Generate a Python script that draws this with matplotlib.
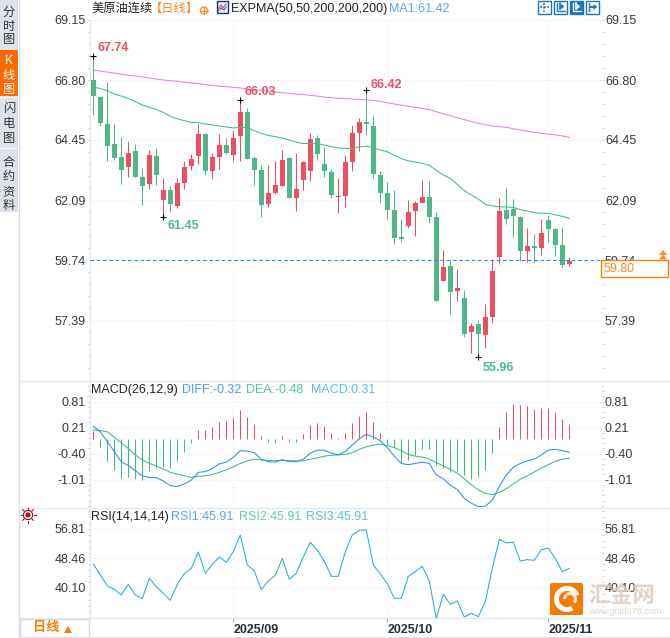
import numpy as np
import matplotlib
matplotlib.use('Agg')
import matplotlib.pyplot as plt
from matplotlib.patches import Rectangle, FancyBboxPatch, Circle, Wedge, Polygon
from matplotlib.ticker import AutoMinorLocator

plt.rcParams['font.family'] = ['Liberation Sans', 'Noto Sans CJK SC', 'DejaVu Sans']

# Candles
open_px = [66.80,66.13,65.08,64.29,63.78,63.39,64.02,63.00,62.73,63.82,62.10,62.49,61.86,62.77,63.43,63.82,64.68,63.24,63.78,64.25,
           63.86,64.61,65.55,63.75,63.28,61.94,62.37,62.65,63.75,62.18,62.88,63.24,64.53,63.51,63.20,62.22,62.26,63.59,64.72,65.15,
           65.00,63.08,62.37,61.71,60.65,61.08,61.67,61.98,62.22,61.43,58.93,59.52,58.53,58.26,56.93,57.24,56.81,57.52,59.87,61.71,
           61.75,61.43,60.10,60.30,60.22,61.32,60.96,60.34,59.59]
close_px = [66.17,65.12,64.21,63.75,63.28,63.94,63.00,62.65,63.86,63.08,62.49,61.94,62.77,63.39,63.71,64.68,63.24,63.78,64.25,63.94,
            64.53,65.55,63.71,63.28,61.90,62.37,62.69,63.67,62.18,62.53,63.59,64.49,63.90,63.24,62.30,62.26,63.59,64.72,65.15,65.08,
            63.12,62.37,61.71,60.61,60.57,61.63,61.98,62.22,61.43,58.14,59.48,58.50,58.65,56.85,57.17,56.85,57.52,59.32,61.67,61.36,
            61.47,60.10,60.30,60.22,60.81,60.96,60.34,59.55,59.71]
high_px = [67.74,66.15,66.72,65.08,64.57,64.41,64.29,63.35,64.06,64.14,62.96,62.65,62.96,63.63,63.90,65.08,64.72,63.94,64.68,64.53,
           64.84,66.03,65.70,63.82,63.47,63.47,63.63,64.06,63.78,63.94,63.63,64.72,64.65,64.18,63.31,62.96,63.86,65.04,65.31,66.42,
           65.39,63.24,62.80,62.49,61.36,62.10,62.06,62.88,62.84,61.63,60.14,59.75,59.40,58.57,57.28,57.40,58.03,59.79,62.18,62.57,
           62.14,61.47,61.00,60.77,61.36,61.51,61.00,61.04,59.87]
low_px = [65.43,65.00,63.63,63.67,62.73,63.00,63.00,61.90,62.53,62.69,61.45,61.63,61.79,62.53,63.28,63.51,63.08,62.92,63.31,63.90,
          63.63,63.63,63.71,62.69,61.43,61.83,62.33,62.65,62.18,61.67,62.49,62.84,63.67,63.00,62.18,61.58,61.83,63.24,64.02,64.65,
          62.96,61.98,61.37,60.38,60.45,61.00,60.69,61.98,61.20,58.14,58.93,57.63,58.14,56.73,56.11,55.96,56.30,57.28,59.59,61.16,
          60.65,59.71,59.67,59.67,59.95,60.45,59.90,59.47,59.52]

expma_slow = [67.19,67.15,67.11,67.07,67.03,66.99,66.96,66.92,66.88,66.84,66.80,66.77,66.75,66.71,66.68,66.66,66.62,66.59,66.56,66.54,
              66.51,66.49,66.45,66.42,66.40,66.36,66.33,66.30,66.28,66.25,66.23,66.20,66.17,66.13,66.11,66.08,66.07,66.06,66.04,66.02,
              66.00,65.96,65.91,65.86,65.81,65.77,65.73,65.69,65.64,65.56,65.48,65.40,65.32,65.25,65.17,65.10,65.05,65.00,64.97,64.95,
              64.89,64.84,64.79,64.75,64.71,64.68,64.65,64.61,64.55]
expma_fast = [66.51,66.47,66.38,66.25,66.17,66.08,65.95,65.82,65.73,65.65,65.53,65.38,65.28,65.21,65.14,65.13,65.08,65.04,65.00,64.96,
              64.92,64.95,64.93,64.82,64.71,64.63,64.58,64.52,64.45,64.37,64.31,64.32,64.32,64.25,64.19,64.14,64.12,64.11,64.18,64.21,
              64.15,64.06,63.99,63.85,63.72,63.63,63.59,63.54,63.46,63.26,63.08,62.95,62.71,62.47,62.30,62.14,61.93,61.87,61.83,61.83,
              61.81,61.72,61.67,61.60,61.58,61.58,61.52,61.46,61.38]

macd_hist = [.18,-.19,-.52,-.74,-.91,-.89,-.94,-.97,-.75,-.69,-.67,-.69,-.52,-.31,-.10,.20,.20,.27,.39,.41,
             .48,.67,.51,.34,.06,-.08,-.10,.06,-.08,-.08,.11,.32,.37,.30,.13,.02,.13,.37,.53,.62,
             .39,.13,-.15,-.22,-.55,-.50,-.38,-.24,-.24,-.64,-.69,-.78,-.76,-.85,-.94,-.90,-.73,-.34,.27,.62,
             .81,.79,.77,.70,.72,.72,.62,.46,.34]
macd_diff = [.24,.11,-.12,-.35,-.59,-.68,-.80,-.92,-.96,-.96,-1.04,-1.15,-1.17,-1.11,-1.02,-.84,-.82,-.75,-.64,-.60,
             -.49,-.33,-.34,-.38,-.53,-.59,-.60,-.54,-.59,-.59,-.53,-.39,-.32,-.32,-.39,-.43,-.35,-.20,-.05,.05,
             -.01,-.10,-.26,-.46,-.63,-.66,-.63,-.60,-.63,-.90,-.99,-1.14,-1.24,-1.45,-1.56,-1.64,-1.63,-1.49,-1.17,-.90,
             -.72,-.63,-.57,-.53,-.43,-.32,-.30,-.33,-.37]
macd_dea = [.15,.14,.11,-.02,-.15,-.28,-.43,-.55,-.63,-.69,-.76,-.84,-.88,-.92,-.96,-.93,-.92,-.89,-.84,-.78,
            -.71,-.63,-.57,-.53,-.55,-.56,-.56,-.56,-.56,-.57,-.57,-.53,-.50,-.46,-.44,-.43,-.42,-.38,-.30,-.24,
            -.20,-.18,-.21,-.26,-.33,-.42,-.46,-.48,-.53,-.61,-.69,-.77,-.86,-.99,-1.13,-1.25,-1.33,-1.36,-1.31,-1.22,
            -1.11,-1.00,-.92,-.83,-.74,-.66,-.58,-.53,-.51]

rsi = [46.90,43.79,40.67,39.73,38.12,41.14,38.12,37.08,42.84,40.48,38.59,36.61,41.14,44.16,45.67,50.30,44.26,46.81,48.88,47.37,
       50.39,55.11,46.62,44.92,39.63,42.09,43.69,48.51,42.56,44.26,48.88,53.04,50.77,47.75,43.41,43.41,50.39,55.11,56.44,56.53,
       46.62,44.07,41.33,37.18,37.18,43.41,44.73,46.24,42.09,31.51,38.31,35.48,36.42,31.89,32.93,31.99,36.23,45.67,53.89,52.85,
       53.04,47.75,48.13,47.94,50.96,51.34,48.51,44.73,45.67]

price_ticks = [69.15, 66.80, 64.45, 62.09, 59.74, 57.39]
macd_ticks = [0.81, 0.21, -0.40, -1.01]
rsi_ticks = [56.81, 48.46, 40.10]
date_pos = [20, 42, 65]
date_labels = ['2025/09', '2025/10', '2025/11']
last_price = 59.74

RED = '#ee4f60'
GREEN = '#52b788'
GRID = '#e4e8ea'
EDGE = '#e2e9ef'
W, H = 670, 638
LW = 0.75  # about one pixel

fig = plt.figure(figsize=(W / 100, H / 100), dpi=100)


def panel(top, bottom, ylim, ticks, labels):
    left, right = 89.5, 601.5
    ax = fig.add_axes([left / W, 1 - bottom / H, (right - left) / W, (bottom - top) / H])
    ax.set_xlim((left - 93.3) / 7, (right - 93.3) / 7)
    ax.set_ylim(*ylim)
    ax.set_yticks(ticks)
    ax.set_yticklabels(labels)
    ax.yaxis.set_minor_locator(AutoMinorLocator(5))
    ax.tick_params(axis='y', which='major', length=0, labelleft=True, labelright=True, labelsize=9,
                   labelcolor='#333a44', pad=2.5)
    ax.tick_params(axis='y', which='minor', length=1.2, width=0.7, color='#c4c8cc', left=True, right=True)
    ax.set_xticks(date_pos)
    ax.tick_params(axis='x', length=0, labelbottom=False)
    ax.grid(True, which='major', color=GRID, linestyle=(0, (1, 2.5)), linewidth=0.8)
    ax.set_axisbelow(True)
    for s in ['top', 'right', 'bottom']:
        ax.spines[s].set_visible(False)
    ax.spines['left'].set_color(EDGE)
    return ax


idx = np.arange(len(close_px))
o = np.array(open_px)
c = np.array(close_px)
hi = np.array(high_px)
lo = np.array(low_px)
up = c >= o

# Main price panel
ax1 = panel(20, 380, (55.05, 69.15), price_ticks, ['%.2f' % t for t in price_ticks])
ax1.vlines(idx[up], lo[up], hi[up], color=RED, linewidth=LW)
ax1.vlines(idx[~up], lo[~up], hi[~up], color=GREEN, linewidth=LW)
ax1.bar(idx[up], c[up] - o[up], bottom=o[up], width=0.76, color=RED, linewidth=0)
ax1.bar(idx[~up], o[~up] - c[~up], bottom=c[~up], width=0.76, color=GREEN, linewidth=0)
ax1.plot(idx, expma_slow, color='#e582da', linewidth=LW)
ax1.plot(idx, expma_fast, color='#3fbb85', linewidth=LW)
ax1.axhline(last_price, color='#1e88ff', linewidth=LW, linestyle=(0, (3.5, 2.5)), zorder=5)

# high / low markers
marks = [(0, 67.74, RED, 0.65, 0.30), (21, 66.03, RED, 0.65, 0.31), (39, 66.42, RED, 0.65, 0.18),
         (10, 61.45, GREEN, 0.65, -0.38), (55, 55.96, GREEN, 0.65, -0.43)]
for i, val, col, dx, dy in marks:
    ax1.plot([i], [val], marker='+', color='black', markersize=5, markeredgewidth=0.8, linestyle='none', zorder=6)
    ax1.text(i + dx, val + dy, '%.2f' % val, color=col, fontsize=9, fontweight='bold', va='center', ha='left')

# MACD panel
ax2 = panel(381, 507, (-1.65, 1.30), macd_ticks, ['0.81', '0.21', '-0.40', '-1.01'])
hist = np.array(macd_hist)
base = -0.05
ax2.vlines(idx[hist > 0], base, base + hist[hist > 0], color=RED, linewidth=LW)
ax2.vlines(idx[hist < 0], base, base + hist[hist < 0], color='#3fbb80', linewidth=LW)
ax2.plot(idx, macd_dea, color='#3fbb80', linewidth=LW)
ax2.plot(idx, macd_diff, color='#2f8cf0', linewidth=LW)

# RSI panel
ax3 = panel(507.5, 618, (31.6, 62.9), rsi_ticks, ['56.81', '48.46', '40.10'])
ax3.plot(idx, rsi, color='#2fa8dc', linewidth=LW)
ax3.set_xticklabels(date_labels)
ax3.tick_params(axis='x', length=3, width=0.8, color='#9aa4ad', labelbottom=True, labelsize=9, labelcolor='#2a2f36', pad=1.5)
for lab in ax3.get_xticklabels():
    lab.set_ha('left')
    lab.set_fontweight('bold')

# Everything around the panels, in pixels
ov = fig.add_axes([0, 0, 1, 1], zorder=10)
ov.set_xlim(0, W)
ov.set_ylim(H, 0)
ov.axis('off')

# separators
ov.plot([18.5, 18.5], [0, 637], color='#d5dde6', linewidth=1)
for y in [381, 507.5, 618]:
    ov.plot([18.5, W], [y, y], color=EDGE, linewidth=1)
ov.plot([18.5, W], [637, 637], color=EDGE, linewidth=1)

# side tabs
ov.add_patch(Rectangle((0, 0), 18, 212, facecolor='#dfe2ea', edgecolor='none'))
ov.add_patch(Rectangle((0, 50), 18, 46, facecolor='#ff6a00', edgecolor='none'))
for y in [97, 148]:
    ov.plot([0, 18], [y, y], color='#f2f4f7', linewidth=1)
side_tabs = [('分时图', [13, 27, 40], '#333333'), ('K线图', [61, 76, 90], 'white'),
             ('闪电图', [109, 124, 139], '#333333'), ('合约资料', [163, 177, 192, 206], '#333333')]
for chars, ys, col in side_tabs:
    for ch, y in zip(chars, ys):
        ov.text(9, y, ch, color=col, fontsize=8.8, ha='center', va='center')

# bottom-left period box
ov.add_patch(Rectangle((19.5, 618.5), 69, 18.5, facecolor='white', edgecolor='#cfd8e3', linewidth=1))
ov.text(33, 628, '日线', color='#ff7a00', fontsize=9.5, fontweight='bold', va='center')
ov.add_patch(Polygon([[64, 633], [72, 633], [68, 626]], facecolor='#ff7a00', edgecolor='none'))

# header legend
ov.text(91, 9, '美原油连续', color='#222222', fontsize=8.8, va='center')
ov.text(150, 9, '【日线】', color='#ff8a1e', fontsize=8.8, va='center')
ov.add_patch(Circle((204, 10.5), 3.6, facecolor='none', edgecolor='#ff8a1e', linewidth=0.9))
ov.plot([200, 208], [10.5, 10.5], color='#ff8a1e', linewidth=0.8)
ov.plot([204, 204], [7, 14], color='#ff8a1e', linewidth=0.8)
ov.add_patch(Rectangle((216.5, 1), 11, 11.5, facecolor='#eef3fb', edgecolor='#1a2f80', linewidth=1))
ov.plot([218, 221, 223, 226], [9, 5, 8, 4], color='#e04040', linewidth=0.8)
ov.plot([218, 221, 224, 226], [11, 8, 10, 7], color='#3060c0', linewidth=0.8)
ov.text(231, 9, 'EXPMA(50,50,200,200,200)', color='#222222', fontsize=9, va='center')
ov.text(389, 9, 'MA1:61.42', color='#5ba2f5', fontsize=9, va='center')

# tool buttons
for k, x0 in enumerate([537.5, 553.5, 569.5, 585.5]):
    face = '#1875c0' if k == 2 else 'white'
    line = 'white' if k == 2 else '#1875c0'
    ov.add_patch(Rectangle((x0, 0.5), 13, 13, facecolor=face, edgecolor='#1875c0', linewidth=1))
    if k == 0:
        ov.plot([x0 + 2, x0 + 11], [7, 7], color=line, linewidth=1.2, linestyle=(0, (1.2, 1)))
        ov.plot([x0 + 6.5, x0 + 6.5], [2.5, 11.5], color=line, linewidth=1.2, linestyle=(0, (1.2, 1)))
    elif k == 3:
        ov.plot([x0 + 3, x0 + 3], [3, 11], color=line, linewidth=1)
        ov.plot([x0 + 4, x0 + 9], [7, 7], color=line, linewidth=1.4)
        ov.add_patch(Polygon([[x0 + 8, 4], [x0 + 12, 7], [x0 + 8, 10]], facecolor=line, edgecolor='none'))
    else:
        ov.plot([x0 + 3, x0 + 3, x0 + 11], [2.5, 10.5, 10.5], color=line, linewidth=1)
        ov.plot([x0 + 6, x0 + 6], [3, 9], color=line, linewidth=1.2)
        ov.add_patch(Polygon([[x0 + 7, 3.5], [x0 + 11, 6.5], [x0 + 7, 9.5]], facecolor=line, edgecolor='none'))

# last price box
ov.add_patch(Rectangle((601, 260), 67, 17, facecolor='white', edgecolor='#ff8000', linewidth=1))
ov.text(604, 268.5, '59.80', color='#ff8a1e', fontsize=9, va='center')
ov.add_patch(Polygon([[659, 255], [667, 255], [663, 250]], facecolor='#ff8a1e', edgecolor='none'))
ov.add_patch(Polygon([[659, 259.5], [667, 259.5], [663, 254.5]], facecolor='#ff8a1e', edgecolor='none'))

# MACD legend
ov.text(91, 390, 'MACD(26,12,9)', color='#222222', fontsize=9, va='center')
ov.text(182, 390, 'DIFF:-0.32', color='#4a9bf5', fontsize=9, va='center')
ov.text(246, 390, 'DEA:-0.48', color='#52c795', fontsize=9, va='center')
ov.text(311, 390, 'MACD:0.31', color='#58bdf0', fontsize=9, va='center')

# RSI legend
ov.text(91, 517, 'RSI(14,14,14)', color='#222222', fontsize=9, va='center')
ov.text(171, 517, 'RSI1:45.91', color='#5ba2f5', fontsize=9, va='center')
ov.text(239, 517, 'RSI2:45.91', color='#62cf9c', fontsize=9, va='center')
ov.text(306, 517, 'RSI3:45.91', color='#58bdf0', fontsize=9, va='center')

# sun icon
ov.add_patch(Circle((28, 515), 2.6, facecolor='#e00000', edgecolor='none'))
ov.add_patch(Circle((28, 515), 4.6, facecolor='none', edgecolor='#222222', linewidth=0.7))
for a in np.arange(0, 360, 45):
    ca, sa = np.cos(np.radians(a)), np.sin(np.radians(a))
    ov.plot([28 + 5.5 * ca, 28 + 7.5 * ca], [515 + 5.5 * sa, 515 + 7.5 * sa], color='#e00000', linewidth=0.8)

# watermark
ov.add_patch(FancyBboxPatch((552, 585), 29, 28, boxstyle='round,pad=2', facecolor='#f57c00', edgecolor='none'))
ov.add_patch(Wedge((567, 599), 13, 60, 340, width=5, facecolor='white', edgecolor='none'))
ov.add_patch(Wedge((570, 599), 7, 180, 40, width=3, facecolor='white', edgecolor='none', alpha=0.8))
ov.text(588, 596, '汇金网', color='#dccbbd', fontsize=16, fontweight='bold', va='center', alpha=0.85)
ov.text(588, 612, 'www.gold678.com', color='#e3d6ca', fontsize=6.5, va='center')

fig.savefig('out.png', dpi=100)
